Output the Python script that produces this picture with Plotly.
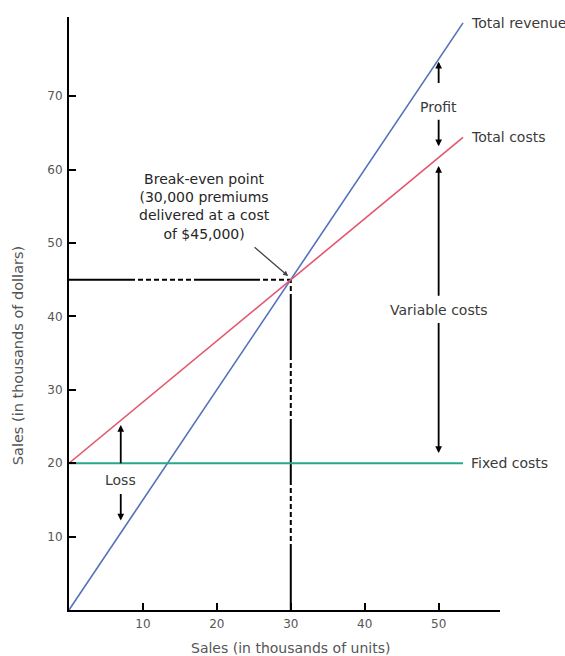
import plotly.graph_objects as go

# Sales volume (thousands of units) and the three lines of the break-even chart
UNITS = [0, 30, 53.3]
TOTAL_REVENUE = [0, 45, 80]          # thousands of dollars
TOTAL_COSTS = [20, 45, 64.4]
FIXED_COSTS = [20, 20, 20]

BREAK_EVEN_UNITS = 30
BREAK_EVEN_DOLLARS = 45

X_TICKS = [10, 20, 30, 40, 50]
Y_TICKS = [10, 20, 30, 40, 50, 60, 70]

# Bracket arrows: (x, label y, [(tail y, head y), ...])
LOSS_ARROWS = (7, 17.7, [(19.8, 25.2), (16.0, 12.2)])
PROFIT_ARROWS = (50, 68.5, [(71.6, 74.7), (67.0, 63.2)])
VARIABLE_ARROWS = (50, 40.9, [(42.6, 60.5), (39.3, 21.4)])

BLUE = "#5470b8"
RED = "#e2576e"
TEAL = "#25a98b"
INK = "#3a3a3a"
FONT = "DejaVu Sans, Liberation Sans, Arial, sans-serif"

fig = go.Figure()

fig.add_trace(go.Scatter(x=UNITS, y=TOTAL_REVENUE, mode="lines",
                         line=dict(color=BLUE, width=1.6), name="Total revenue"))
fig.add_trace(go.Scatter(x=UNITS, y=TOTAL_COSTS, mode="lines",
                         line=dict(color=RED, width=1.6), name="Total costs"))
fig.add_trace(go.Scatter(x=UNITS, y=FIXED_COSTS, mode="lines",
                         line=dict(color=TEAL, width=2), name="Fixed costs"))

# Guide lines to the break-even point
guide_dash = "66px,3px" + ",5px,3px" * 7
fig.add_shape(type="line", x0=0, y0=BREAK_EVEN_DOLLARS, x1=BREAK_EVEN_UNITS,
              y1=BREAK_EVEN_DOLLARS, line=dict(color="black", width=2, dash=guide_dash),
              layer="below")
fig.add_shape(type="line", x0=BREAK_EVEN_UNITS, y0=0, x1=BREAK_EVEN_UNITS,
              y1=BREAK_EVEN_DOLLARS, line=dict(color="black", width=2, dash=guide_dash),
              layer="below")

annotations = []

# Line labels at the right end of each line
for label, ys in (("Total revenue", TOTAL_REVENUE), ("Total costs", TOTAL_COSTS),
                  ("Fixed costs", FIXED_COSTS)):
    annotations.append(dict(x=UNITS[-1], y=ys[-1], text=label, showarrow=False,
                            xanchor="left", yanchor="middle", xshift=6,
                            font=dict(family=FONT, size=14, color=INK)))

# Bracket labels and arrows
for text, (ax_x, label_y, arrows) in (("Loss", LOSS_ARROWS), ("Profit", PROFIT_ARROWS),
                                     ("Variable costs", VARIABLE_ARROWS)):
    annotations.append(dict(x=ax_x, y=label_y, text=text, showarrow=False,
                            xanchor="center", yanchor="middle",
                            font=dict(family=FONT, size=14, color=INK)))
    for tail, head in arrows:
        annotations.append(dict(x=ax_x, y=head, ax=ax_x, ay=tail, xref="x", yref="y",
                                axref="x", ayref="y", text="", showarrow=True,
                                arrowhead=2, arrowsize=0.75, arrowwidth=1.8,
                                arrowcolor="black", standoff=0, startstandoff=0))

# Break-even callout
annotations.append(dict(x=18.3, y=55.0, xref="x", yref="y",
                        text="Break-even point<br>(30,000 premiums<br>delivered at a cost<br>of $45,000)",
                        showarrow=False, align="center", xanchor="center", yanchor="middle",
                        font=dict(family=FONT, size=14, color="#262626")))
annotations.append(dict(x=BREAK_EVEN_UNITS - 0.35, y=BREAK_EVEN_DOLLARS + 0.5,
                        ax=24.9, ay=49.6, xref="x", yref="y", axref="x", ayref="y",
                        text="", showarrow=True, arrowhead=2, arrowsize=0.8,
                        arrowwidth=1.3, arrowcolor="#444444", standoff=0))

# Axis titles
annotations.append(dict(x=-0.118, y=34.6, xref="paper", yref="y",
                        text="Sales (in thousands of dollars)", textangle=-90,
                        showarrow=False, xanchor="center", yanchor="middle",
                        font=dict(family=FONT, size=14.5, color="#555555")))
annotations.append(dict(x=30, y=-0.064, xref="x", yref="paper",
                        text="Sales (in thousands of units)",
                        showarrow=False, xanchor="center", yanchor="middle",
                        font=dict(family=FONT, size=14, color="#555555")))

fig.update_layout(
    width=565, height=656,
    margin=dict(l=69, r=65, t=17, b=46),
    paper_bgcolor="white", plot_bgcolor="white",
    showlegend=False,
    annotations=annotations,
    xaxis=dict(range=[0, 58.3], tickvals=X_TICKS, showgrid=False, zeroline=False,
               showline=True, linecolor="black", linewidth=2,
               ticks="inside", ticklen=7, tickwidth=2, tickcolor="black",
               tickfont=dict(family=FONT, size=12, color="#555555"),
               ticklabelstandoff=2),
    yaxis=dict(range=[0, 80.8], tickvals=Y_TICKS, showgrid=False, zeroline=False,
               showline=True, linecolor="black", linewidth=2,
               ticks="inside", ticklen=7, tickwidth=2, tickcolor="black",
               tickfont=dict(family=FONT, size=12, color="#555555"),
               ticklabelstandoff=2),
)

fig.write_html("out.html")
